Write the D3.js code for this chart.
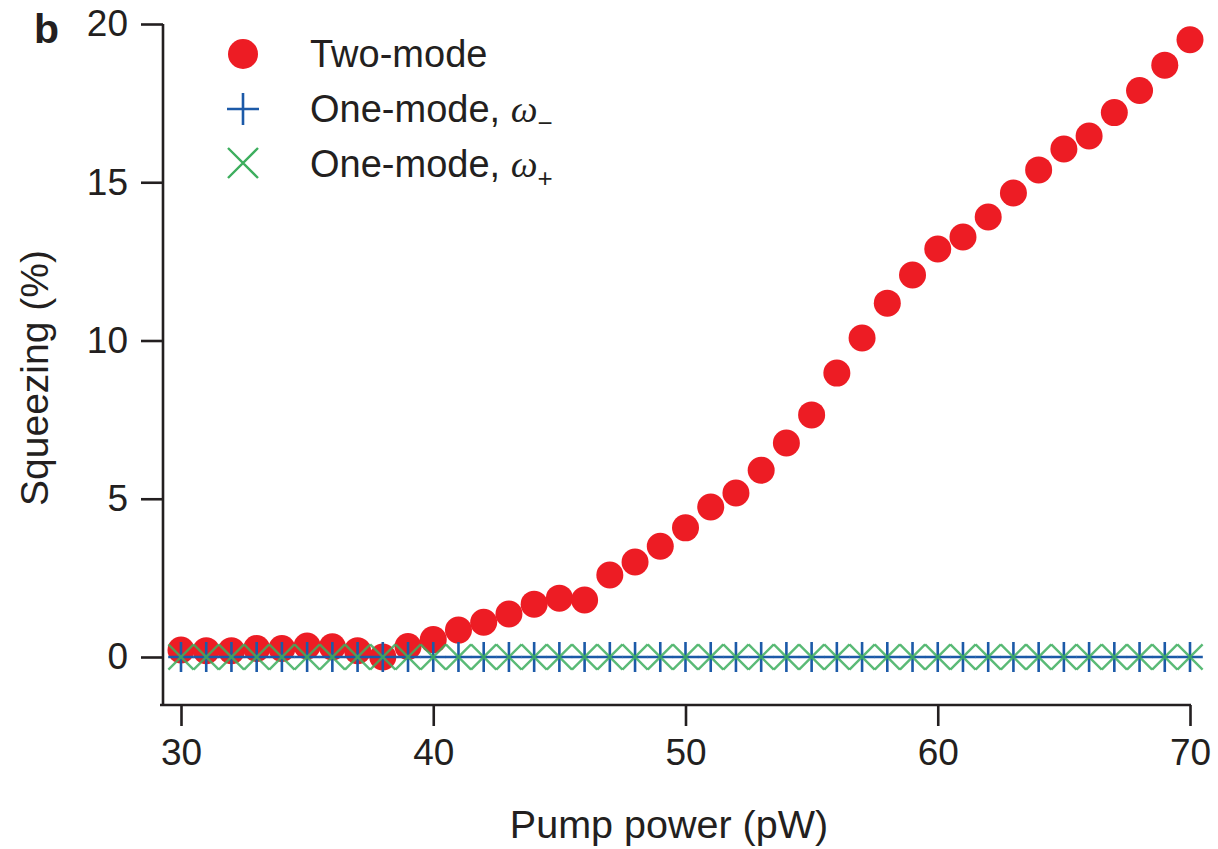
<!DOCTYPE html>
<html>
<head>
<meta charset="utf-8">
<script src="https://cdn.jsdelivr.net/npm/d3@7"></script>
<style>
  body { margin: 0; background: #fff; }
  text { font-family: "Liberation Sans", Arial, Helvetica, sans-serif; fill: #231f20; }
</style>
</head>
<body>
<div id="chart"></div>
<script>
// pump power (pW), one point per pW
var pumpPower = [30, 31, 32, 33, 34, 35, 36, 37, 38, 39, 40, 41, 42, 43, 44, 45, 46, 47, 48, 49, 50,
                 51, 52, 53, 54, 55, 56, 57, 58, 59, 60, 61, 62, 63, 64, 65, 66, 67, 68, 69, 70];
// squeezing (%)
var twoMode = [0.22, 0.2, 0.2, 0.27, 0.27, 0.35, 0.32, 0.2, 0.0, 0.33, 0.55, 0.85, 1.1, 1.36, 1.67, 1.86, 1.8, 2.59, 3.0, 3.5, 4.08,
               4.74, 5.18, 5.9, 6.76, 7.65, 8.97, 10.08, 11.18, 12.07, 12.89, 13.27, 13.9, 14.66, 15.39, 16.05, 16.46, 17.2, 17.9, 18.7, 19.5];
var oneModeMinus = [0, 0, 0, 0, 0, 0, 0, 0, 0, 0, 0, 0, 0, 0, 0, 0, 0, 0, 0, 0, 0,
                    0, 0, 0, 0, 0, 0, 0, 0, 0, 0, 0, 0, 0, 0, 0, 0, 0, 0, 0, 0];
var oneModePlus = [0, 0, 0, 0, 0, 0, 0, 0, 0, 0, 0, 0, 0, 0, 0, 0, 0, 0, 0, 0, 0,
                   0, 0, 0, 0, 0, 0, 0, 0, 0, 0, 0, 0, 0, 0, 0, 0, 0, 0, 0, 0];
var xTicks = [30, 40, 50, 60, 70];
var yTicks = [0, 5, 10, 15, 20];

var red = "#ed1c24", blue = "#1c5aa8", green = "#3dae5e", ink = "#231f20";

var width = 1218, height = 849;
var svg = d3.select("#chart").append("svg")
  .attr("width", width)
  .attr("height", height);

var x = d3.scaleLinear().domain([30, 70]).range([181, 1190]);
var y = d3.scaleLinear().domain([0, 20]).range([657, 24]);

var axisLeftX = 163, axisBottomY = 705;

// y axis
var yAxis = svg.append("g")
  .attr("transform", "translate(" + axisLeftX + ",0)")
  .call(d3.axisLeft(y).tickValues(yTicks).tickSize(22).tickPadding(13).tickSizeOuter(0));
yAxis.select(".domain").attr("d", "M0," + y(20) + "V" + axisBottomY);

// x axis
var xAxis = svg.append("g")
  .attr("transform", "translate(0," + axisBottomY + ")")
  .call(d3.axisBottom(x).tickValues(xTicks).tickSize(21).tickPadding(13).tickSizeOuter(0));
xAxis.select(".domain").attr("d", "M" + (axisLeftX - 3) + ",0H" + (x(70) + 1));

svg.selectAll(".domain, .tick line").attr("stroke", ink).attr("stroke-width", 2.6);
svg.selectAll(".tick text")
  .style("font-family", "'Liberation Sans', Arial, sans-serif")
  .attr("font-size", 37)
  .attr("fill", ink);

// data
var rows = pumpPower.map(function(p, i) {
  return { p: p, two: twoMode[i], minus: oneModeMinus[i], plus: oneModePlus[i] };
});

svg.append("g").selectAll("circle")
  .data(rows)
  .enter().append("circle")
  .attr("cx", function(d) { return x(d.p); })
  .attr("cy", function(d) { return y(d.two); })
  .attr("r", 13.5)
  .attr("fill", red);

var ph = 12.8, pv = 15;
svg.append("g").selectAll("path")
  .data(rows)
  .enter().append("path")
  .attr("d", function(d) {
    var cx = x(d.p), cy = y(d.minus);
    return "M" + (cx - ph) + "," + cy + "H" + (cx + ph) + "M" + cx + "," + (cy - pv) + "V" + (cy + pv);
  })
  .attr("stroke", blue)
  .attr("stroke-width", 2.6)
  .attr("fill", "none");

var xh = 12.6;
svg.append("g").selectAll("path")
  .data(rows)
  .enter().append("path")
  .attr("d", function(d) {
    var cx = x(d.p), cy = y(d.plus);
    return "M" + (cx - xh) + "," + (cy - xh) + "L" + (cx + xh) + "," + (cy + xh) +
           "M" + (cx - xh) + "," + (cy + xh) + "L" + (cx + xh) + "," + (cy - xh);
  })
  .attr("stroke", green)
  .attr("stroke-width", 2.4)
  .attr("stroke-opacity", 0.85)
  .attr("fill", "none");

// legend
var legend = svg.append("g");
var lx = 243, lTextX = 310;
legend.append("circle").attr("cx", lx).attr("cy", 54).attr("r", 15).attr("fill", red);
legend.append("path")
  .attr("d", "M" + (lx - 16) + ",109H" + (lx + 16) + "M" + lx + ",93V125")
  .attr("stroke", blue).attr("stroke-width", 2.6).attr("fill", "none");
legend.append("path")
  .attr("d", "M" + (lx - 15) + ",148L" + (lx + 15) + ",178M" + (lx - 15) + ",178L" + (lx + 15) + ",148")
  .attr("stroke", green).attr("stroke-width", 2.4).attr("fill", "none");

var labels = [
  { y: 67, main: "Two-mode", sub: "" },
  { y: 122, main: "One-mode, ", sub: "\u2212" },
  { y: 177, main: "One-mode, ", sub: "+" }
];
labels.forEach(function(l) {
  var t = legend.append("text")
    .attr("x", lTextX)
    .attr("y", l.y)
    .attr("font-size", 38);
  t.append("tspan").text(l.main);
  if (l.sub) {
    t.append("tspan")
      .attr("font-family", "'Liberation Serif', 'DejaVu Serif', serif")
      .attr("font-style", "italic")
      .text("\u03c9");
    t.append("tspan")
      .attr("font-size", 26)
      .attr("dy", 10)
      .text(l.sub);
  }
});

// axis titles
svg.append("text")
  .attr("x", 669)
  .attr("y", 838)
  .attr("text-anchor", "middle")
  .attr("font-size", 39.5)
  .text("Pump power (pW)");

svg.append("text")
  .attr("transform", "translate(48,378) rotate(-90)")
  .attr("text-anchor", "middle")
  .attr("font-size", 39)
  .text("Squeezing (%)");

// panel letter
svg.append("text")
  .attr("x", 34)
  .attr("y", 43)
  .attr("font-size", 41)
  .attr("font-weight", "bold")
  .text("b");
</script>
</body>
</html>
